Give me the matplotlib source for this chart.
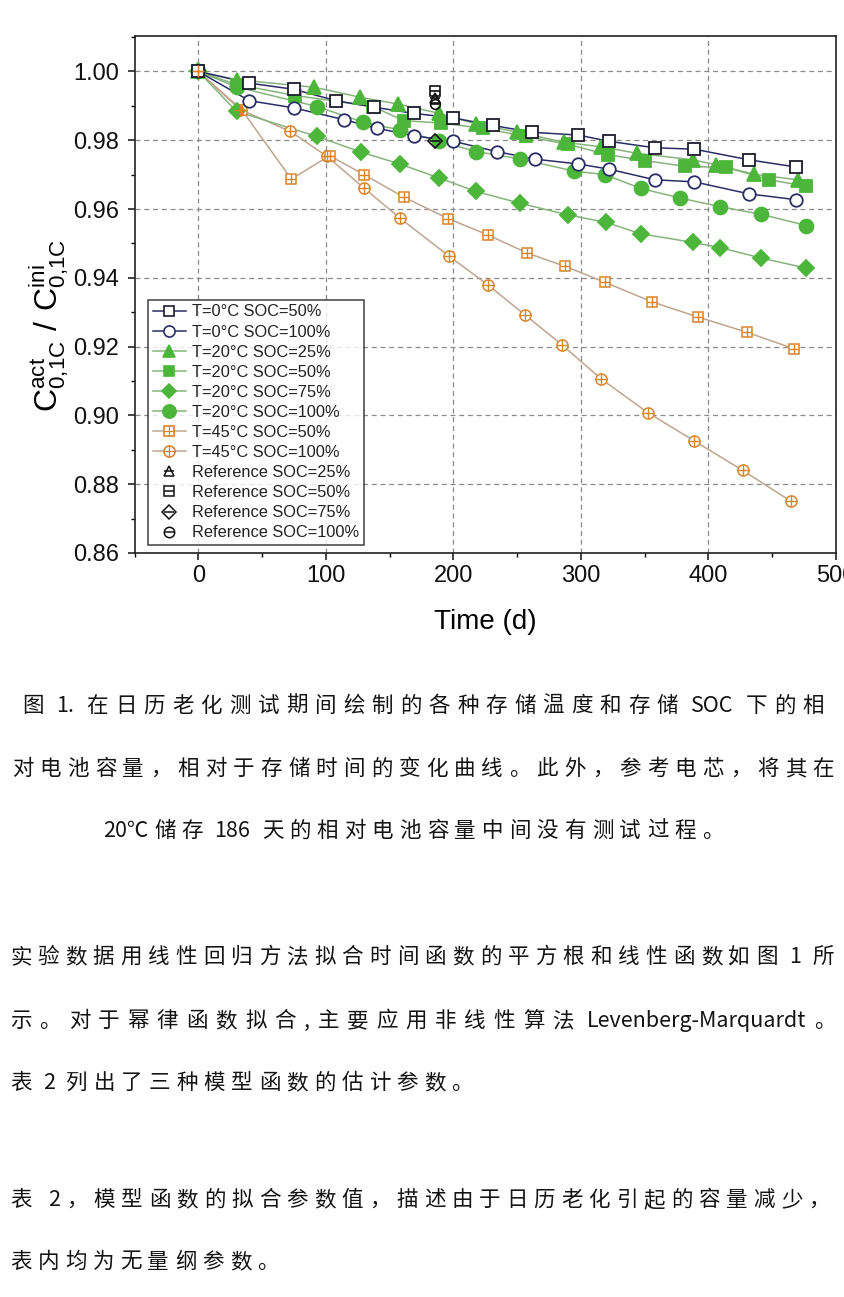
import matplotlib
matplotlib.use('Agg')
import matplotlib.pyplot as plt
from matplotlib.lines import Line2D
from matplotlib.legend_handler import HandlerTuple
from matplotlib.font_manager import FontProperties
from matplotlib.ticker import MultipleLocator, FormatStrFormatter

plt.rcParams['font.family'] = ['Liberation Sans', 'DejaVu Sans']

# ---------------- data ----------------
t_0c_50 = [0, 40, 75, 108, 138, 169, 200, 231, 262, 298, 322, 358, 389, 432, 469]
c_0c_50 = [1.0, 0.9966, 0.9948, 0.9915, 0.9896, 0.9878, 0.9865, 0.9843, 0.9823, 0.9815, 0.9797, 0.9778, 0.9774, 0.9743, 0.9722]
t_0c_100 = [0, 40, 75, 114, 140, 169, 200, 234, 264, 298, 322, 358, 389, 432, 469]
c_0c_100 = [1.0, 0.9915, 0.9894, 0.9860, 0.9835, 0.9813, 0.9797, 0.9767, 0.9745, 0.9731, 0.9716, 0.9685, 0.9679, 0.9644, 0.9627]
t_20c_25 = [0, 30, 91, 127, 157, 189, 218, 250, 287, 316, 344, 388, 406, 436, 470]
c_20c_25 = [1.0, 0.9976, 0.9954, 0.9925, 0.9905, 0.9878, 0.9847, 0.9824, 0.9794, 0.9781, 0.9762, 0.9743, 0.9729, 0.9701, 0.9685]
t_20c_50 = [0, 30, 76, 137, 161, 190, 223, 257, 290, 321, 350, 382, 414, 448, 477]
c_20c_50 = [1.0, 0.9962, 0.9930, 0.9898, 0.9857, 0.9850, 0.9835, 0.9811, 0.9788, 0.9758, 0.9741, 0.9724, 0.9721, 0.9685, 0.9666]
t_20c_75 = [0, 30, 93, 128, 158, 189, 218, 252, 290, 320, 347, 388, 409, 441, 477]
c_20c_75 = [1.0, 0.9884, 0.9811, 0.9765, 0.9731, 0.9690, 0.9651, 0.9617, 0.9583, 0.9561, 0.9528, 0.9503, 0.9488, 0.9458, 0.9428]
t_20c_100 = [0, 30, 93, 129, 158, 189, 218, 252, 295, 319, 347, 378, 409, 441, 477]
c_20c_100 = [1.0, 0.9955, 0.9898, 0.9853, 0.9830, 0.9797, 0.9767, 0.9746, 0.9710, 0.9700, 0.9660, 0.9632, 0.9607, 0.9585, 0.9552]
t_45c_50 = [0, 34, 73, 103, 130, 161, 196, 227, 258, 288, 319, 356, 392, 430, 467]
c_45c_50 = [1.0, 0.9889, 0.9687, 0.9755, 0.9700, 0.9635, 0.9572, 0.9525, 0.9472, 0.9433, 0.9387, 0.9330, 0.9286, 0.9242, 0.9194]
t_45c_100 = [0, 33, 72, 101, 130, 158, 197, 227, 256, 285, 316, 353, 389, 427, 465]
c_45c_100 = [1.0, 0.9889, 0.9826, 0.9753, 0.9661, 0.9574, 0.9462, 0.9380, 0.9293, 0.9206, 0.9106, 0.9007, 0.8926, 0.8840, 0.8750]

t_ref = [186]
c_ref_25 = [0.9922]
c_ref_50 = [0.9942]
c_ref_75 = [0.9797]
c_ref_100 = [0.9905]

labels = ['T=0°C SOC=50%', 'T=0°C SOC=100%', 'T=20°C SOC=25%', 'T=20°C SOC=50%',
          'T=20°C SOC=75%', 'T=20°C SOC=100%', 'T=45°C SOC=50%', 'T=45°C SOC=100%',
          'Reference SOC=25%', 'Reference SOC=50%', 'Reference SOC=75%', 'Reference SOC=100%']

x_ticks = [0, 100, 200, 300, 400, 500]
y_ticks = [0.86, 0.88, 0.90, 0.92, 0.94, 0.96, 0.98, 1.00]

para1 = ['图 1. 在日历老化测试期间绘制的各种存储温度和存储 SOC 下的相',
         '对电池容量，相对于存储时间的变化曲线。此外，参考电芯，将其在',
         '20℃储存 186 天的相对电池容量中间没有测试过程。']
para2 = ['实验数据用线性回归方法拟合时间函数的平方根和线性函数如图 1 所',
         '示。对于幂律函数拟合,主要应用非线性算法 Levenberg-Marquardt。',
         '表 2 列出了三种模型函数的估计参数。']
para3 = ['表  2，模型函数的拟合参数值，描述由于日历老化引起的容量减少，',
         '表内均为无量纲参数。']

# ---------------- figure ----------------
W, H = 844, 1297
fig = plt.figure(figsize=(W / 100, H / 100), dpi=100)
fig.patch.set_facecolor('white')
ax = fig.add_axes([134.5 / W, 1 - 553 / H, (835.8 - 134.5) / W, (553 - 36) / H])

NAVY = '#2a2d66'
DARK = '#1c1c2c'
GREEN = '#4cb63a'
GLINE = '#86b47c'
ORANGE = '#d8862c'
OLINE = '#bfa58e'

def series(t, c, marker, mcol, lcol, filled, ms, cross=False, mew=1.3):
    ax.plot(t, c, '-', color=lcol, lw=1.1, zorder=2)
    ax.plot(t, c, linestyle='none', marker=marker, ms=ms, mec=mcol,
            mfc=mcol if filled else 'white', mew=mew, zorder=3)
    if cross:
        ax.plot(t, c, linestyle='none', marker='+', ms=ms, mec=mcol, mew=1.0, zorder=4)

series(t_45c_100, c_45c_100, 'o', ORANGE, OLINE, False, 8, cross=True, mew=1.1)
series(t_45c_50, c_45c_50, 's', ORANGE, OLINE, False, 7.5, cross=True, mew=1.1)
series(t_20c_75, c_20c_75, 'D', GREEN, GLINE, True, 8)
series(t_20c_100, c_20c_100, 'o', GREEN, GLINE, True, 10)
series(t_20c_50, c_20c_50, 's', GREEN, GLINE, True, 8)
series(t_20c_25, c_20c_25, '^', GREEN, GLINE, True, 9.5)
series(t_0c_100, c_0c_100, 'o', NAVY, NAVY, False, 9)
series(t_0c_50, c_0c_50, 's', DARK, NAVY, False, 8)

for cref, mk in [(c_ref_25, '^'), (c_ref_50, 's'), (c_ref_75, 'D'), (c_ref_100, 'o')]:
    ax.plot(t_ref, cref, linestyle='none', marker=mk, ms=7, mec='#111111', mfc='none', mew=1.2, zorder=6)
    ax.plot(t_ref, cref, linestyle='none', marker='_', ms=7, mec='#111111', mew=1.2, zorder=6)

ax.set_xlim(-50, 500)
ax.set_ylim(0.86, 1.0103)
ax.set_xticks(x_ticks)
ax.set_yticks(y_ticks)
ax.xaxis.set_minor_locator(MultipleLocator(50))
ax.yaxis.set_minor_locator(MultipleLocator(0.01))
ax.yaxis.set_major_formatter(FormatStrFormatter('%.2f'))
ax.tick_params(which='major', direction='out', length=5, width=1.1, labelsize=17, colors='#111111')
ax.tick_params(which='minor', direction='out', length=3, width=1.0)
ax.tick_params(axis='y', pad=6)
for s in ax.spines.values():
    s.set_linewidth(1.2)
    s.set_color('#222222')
ax.grid(True, which='major', linestyle=(0, (4, 3)), color='#8a8a8a', lw=0.9)
ax.set_axisbelow(True)

ax.set_xlabel('Time (d)', fontsize=20, labelpad=16)
ax.set_ylabel(r'$\mathregular{C^{act}_{0{,}1C}\ /\ C^{ini}_{0{,}1C}}$', fontsize=23)
ax.yaxis.set_label_coords(-0.09, 0.44)

# legend
def h_line(marker, mcol, lcol, filled, ms):
    return Line2D([], [], color=lcol, lw=1.1, marker=marker, ms=ms, mec=mcol,
                  mfc=mcol if filled else 'white', mew=1.2)

def h_plus(mcol, ms):
    return Line2D([], [], linestyle='none', marker='+', ms=ms, mec=mcol, mew=0.9)

def h_ref(marker):
    return (Line2D([], [], linestyle='none', marker=marker, ms=7.5, mec='#111111', mfc='none', mew=1.1),
            Line2D([], [], linestyle='none', marker='_', ms=7.5, mec='#111111', mew=1.1))

handles = [
    h_line('s', DARK, NAVY, False, 7.5),
    h_line('o', NAVY, NAVY, False, 8),
    h_line('^', GREEN, GLINE, True, 9),
    h_line('s', GREEN, GLINE, True, 7.5),
    h_line('D', GREEN, GLINE, True, 7.5),
    h_line('o', GREEN, GLINE, True, 9.5),
    (h_line('s', ORANGE, OLINE, False, 7.5), h_plus(ORANGE, 7.5)),
    (h_line('o', ORANGE, OLINE, False, 8), h_plus(ORANGE, 8)),
    h_ref('^'), h_ref('s'), h_ref('D'), h_ref('o'),
]
leg = ax.legend(handles, labels, loc='lower left', bbox_to_anchor=(0.019, 0.015),
                fontsize=11.8, frameon=True, fancybox=False, edgecolor='#222222',
                handlelength=2.0, handletextpad=0.4, labelspacing=0.31, borderpad=0.3,
                borderaxespad=0.0, handler_map={tuple: HandlerTuple(ndivide=1)})
leg.get_frame().set_linewidth(1.2)
leg.set_zorder(10)
for txt in leg.get_texts():
    txt.set_color('#222222')

# ---------------- Chinese body text ----------------
BODY_PT = 15.5
fp = FontProperties(family=['Noto Sans CJK SC', 'DejaVu Sans'], size=BODY_PT)
GAP = 6.0
SPACE_W = BODY_PT * 100 / 72 * 0.25
fig.canvas.draw()
renderer = fig.canvas.get_renderer()

def tokenize(s):
    toks, run = [], ''
    for ch in s:
        if ch == ' ':
            if run:
                toks.append(run); run = ''
            toks.append(' ')
        elif ord(ch) > 0x2E00:
            if run:
                toks.append(run); run = ''
            toks.append(ch)
        else:
            run += ch
    if run:
        toks.append(run)
    return toks

def draw_line(s, y, xl, xr=None, center=None):
    toks = tokenize(s)
    objs, widths = [], []
    for tk in toks:
        if tk == ' ':
            # spaces widen the preceding token, no extra gap
            widths[-1] += SPACE_W
        else:
            t = fig.text(0, 0, tk, fontproperties=fp, color='#141414', va='center', ha='left')
            objs.append(t); widths.append(t.get_window_extent(renderer).width)
    n = len(objs)
    total = sum(widths)
    if xr is not None and n > 1:
        gap = (xr - xl - total) / (n - 1)
        x = xl
    else:
        gap = GAP
        span = total + gap * (n - 1)
        x = center - span / 2 if center is not None else xl
    for obj, w in zip(objs, widths):
        obj.set_position((x / W, 1 - y / H))
        x += w + gap

draw_line(para1[0], 706, 22, 824)
draw_line(para1[1], 769, 12, 834)
draw_line(para1[2], 831, 0, center=413)
draw_line(para2[0], 957, 10, 834)
draw_line(para2[1], 1021, 10, 836)
draw_line(para2[2], 1083, 10)
draw_line(para3[0], 1200, 10, 830)
draw_line(para3[1], 1262, 10)

fig.savefig('out.png', dpi=100, facecolor='white')
